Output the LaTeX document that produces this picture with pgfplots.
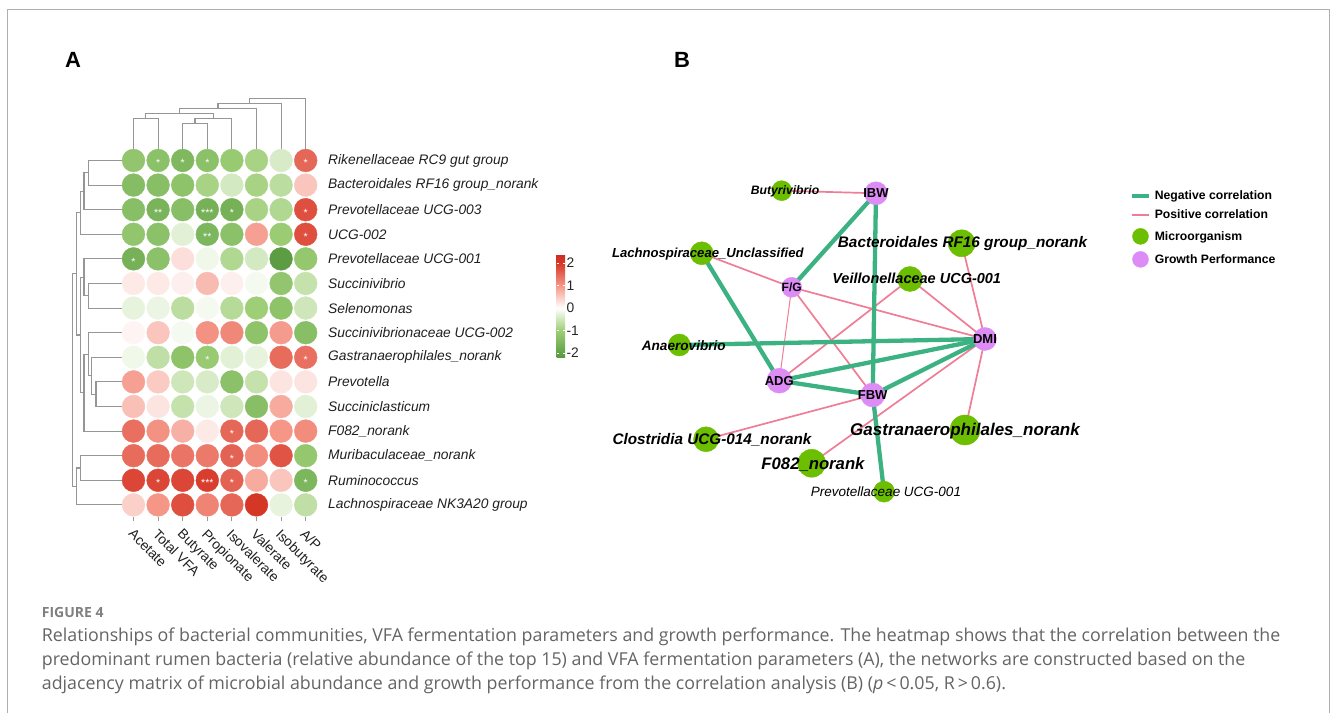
\documentclass[border=0pt]{standalone}
\usepackage{pgfplots}
\pgfplotsset{compat=1.18}
\usepackage{pgfplotstable}
\usepackage{fontspec}
\setmainfont{Liberation Sans}
\newfontfamily\capfont{Open Sans}
\definecolor{dendro}{RGB}{150,150,150}
\definecolor{negc}{RGB}{60,178,130}
\definecolor{posc}{RGB}{240,125,150}
\definecolor{microgreen}{RGB}{108,190,0}
\definecolor{growthpink}{RGB}{222,140,245}
\definecolor{capgray}{RGB}{100,100,100}
\definecolor{framegray}{RGB}{175,175,175}
\newcommand{\fs}[1]{\fontsize{#1}{#1}\selectfont}

% heatmap: column index, row index, correlation value
\pgfplotstableread{
c r v
0 0 -1.2
1 0 -1.3
2 0 -1.5
3 0 -1.3
4 0 -1.1
5 0 -0.9
6 0 -0.4
7 0 1.5
0 1 -1.4
1 1 -1.35
2 1 -1.25
3 1 -0.9
4 1 -0.45
5 1 -0.9
6 1 -0.7
7 1 0.55
0 2 -1.35
1 2 -1.6
2 2 -1.35
3 2 -1.65
4 2 -1.65
5 2 -0.9
6 2 -0.8
7 2 1.75
0 3 -1.2
1 3 -1.3
2 3 -0.3
3 3 -1.55
4 3 -1.3
5 3 0.9
6 3 -1.05
7 3 1.75
0 4 -1.65
1 4 -1.3
2 4 0.3
3 4 -0.15
4 4 -0.8
5 4 -0.45
6 4 -2.1
7 4 -1.15
0 5 0.2
1 5 0.2
2 5 0.15
3 5 0.65
4 5 0.15
5 5 -0.1
6 5 -1.2
7 5 -0.6
0 6 -0.25
1 6 -0.2
2 6 -0.7
3 6 -0.1
4 6 -0.75
5 6 -1.0
6 6 -1.25
7 6 -0.5
0 7 0.1
1 7 0.55
2 7 -0.1
3 7 1.05
4 7 1.15
5 7 -1.25
6 7 0.95
7 7 -1.35
0 8 -0.15
1 8 -0.65
2 8 -1.25
3 8 -1.1
4 8 -0.3
5 8 -0.25
6 8 1.45
7 8 1.4
0 9 0.9
1 9 0.5
2 9 -0.5
3 9 -0.4
4 9 -1.3
5 9 -0.6
6 9 0.25
7 9 0.25
0 10 0.6
1 10 0.25
2 10 -0.6
3 10 -0.2
4 10 -0.5
5 10 -1.35
6 10 0.8
7 10 -0.3
0 11 1.4
1 11 1.05
2 11 0.75
3 11 0.2
4 11 1.5
5 11 1.5
6 11 1.0
7 11 1.1
0 12 1.45
1 12 1.45
2 12 1.35
3 12 1.3
4 12 1.55
5 12 1.1
6 12 1.7
7 12 -1.15
0 13 1.85
1 13 1.85
2 13 1.85
3 13 1.95
4 13 1.55
5 13 0.8
6 13 0.55
7 13 -1.55
0 14 0.45
1 14 1.0
2 14 1.75
3 14 1.2
4 14 1.5
5 14 2.05
6 14 -0.25
7 14 -0.65
}\heat

\pgfplotstableread{
c r s
1 0 *
2 0 *
3 0 *
7 0 *
1 2 **
3 2 ***
4 2 *
7 2 *
3 3 **
7 3 *
0 4 *
3 8 *
7 8 *
4 11 *
4 12 *
1 13 *
3 13 ***
4 13 *
7 13 *
}\stars

\begin{document}
\begin{tikzpicture}
\begin{axis}[
  set layers,
  scale only axis, width=1331pt, height=713pt,
  xmin=0, xmax=1331, ymin=0, ymax=713, y dir=reverse,
  hide axis, clip=false,
  colormap={rg}{rgb255(0pt)=(88,152,62); rgb255(22pt)=(96,162,72); rgb255(122pt)=(158,206,118); rgb255(222pt)=(255,255,255); rgb255(322pt)=(245,150,135); rgb255(422pt)=(214,56,40); rgb255(462pt)=(205,45,30)},
  point meta min=-2.22, point meta max=2.4,
  colorbar,
  colorbar style={
    at={(parent axis.north west)}, anchor=north west,
    xshift=548pt, yshift=-254pt,
    scale only axis, width=8.5pt, height=104pt,
    y dir=normal,
    ytick={-2,-1,0,1,2}, yticklabels={-2,-1,0,1,2},
    yticklabel style={font=\fs{13.8}, xshift=-2pt, text=black!85},
    axis line style={draw=none},
    ytick style={draw=white, line width=0.9pt},
    major tick length=2.5pt,
    tick align=inside,
    ytick pos=both, yticklabel pos=right,
  },
  legend style={at={(axis cs:1127,187.5)}, anchor=north west, draw=none, fill=none,
    font=\bfseries\fs{12.2}, row sep=7pt, nodes={inner sep=1pt},
    /tikz/every odd column/.append style={column sep=3pt}},
  legend cell align=left,
]

% full-size bounding box
\path (axis cs:0,0) rectangle (axis cs:1331,713);

% frame
\draw[framegray, line width=1.3pt] (axis cs:7.3,713) -- (axis cs:7.3,9.5) -- (axis cs:1329.5,9.5) -- (axis cs:1329.5,713);

% panel letters
\node[font=\bfseries\fs{22}] at (axis cs:73,60) {A};
\node[font=\bfseries\fs{22}] at (axis cs:682,60) {B};

% ---------- heatmap ----------
\addplot[forget plot, scatter, only marks, mark=*, mark size=11.4,
  scatter src=explicit,
  scatter/use mapped color={draw=mapped color, fill=mapped color}]
  table[x expr=133.5+24.6*\thisrow{c}, y expr=160.5+24.6*\thisrow{r}, meta=v] {\heat};

\addplot[forget plot, only marks, mark=none, nodes near coords, point meta=explicit symbolic,
  nodes near coords style={anchor=center, text=white, font=\fs{10.5}, inner sep=0pt, yshift=-2.8pt}]
  table[x expr=133.5+24.6*\thisrow{c}, y expr=160.5+24.6*\thisrow{r}, meta=s] {\stars};

% row dendrogram
\addplot[forget plot, dendro, line width=1.1pt, mark=none] coordinates {(122,160.5) (88.3,160.5) (88.3,185.1) (122,185.1)};
\addplot[forget plot, dendro, line width=1.1pt, mark=none] coordinates {(88.3,172.8) (84,172.8) (84,209.7) (122,209.7)};
\addplot[forget plot, dendro, line width=1.1pt, mark=none] coordinates {(84,191.25) (80.7,191.25) (80.7,234.3) (122,234.3)};
\addplot[forget plot, dendro, line width=1.1pt, mark=none] coordinates {(122,283.5) (88.3,283.5) (88.3,308.1) (122,308.1)};
\addplot[forget plot, dendro, line width=1.1pt, mark=none] coordinates {(122,258.9) (84,258.9) (84,295.8) (88.3,295.8)};
\addplot[forget plot, dendro, line width=1.1pt, mark=none] coordinates {(122,381.9) (96,381.9) (96,406.5) (122,406.5)};
\addplot[forget plot, dendro, line width=1.1pt, mark=none] coordinates {(122,357.3) (91.7,357.3) (91.7,394.2) (96,394.2)};
\addplot[forget plot, dendro, line width=1.1pt, mark=none] coordinates {(122,332.7) (88.3,332.7) (88.3,375.75) (91.7,375.75)};
\addplot[forget plot, dendro, line width=1.1pt, mark=none] coordinates {(88.3,354.2) (84,354.2) (84,431.1) (122,431.1)};
\addplot[forget plot, dendro, line width=1.1pt, mark=none] coordinates {(84,277.35) (80.7,277.35) (80.7,392.65) (84,392.65)};
\addplot[forget plot, dendro, line width=1.1pt, mark=none] coordinates {(80.7,212.8) (76.2,212.8) (76.2,335) (80.7,335)};
\addplot[forget plot, dendro, line width=1.1pt, mark=none] coordinates {(122,455.7) (80.7,455.7) (80.7,480.3) (122,480.3)};
\addplot[forget plot, dendro, line width=1.1pt, mark=none] coordinates {(80.7,468) (76.7,468) (76.7,504.9) (122,504.9)};
\addplot[forget plot, dendro, line width=1.1pt, mark=none] coordinates {(76.2,273.9) (72.8,273.9) (72.8,486.45) (76.7,486.45)};

% column dendrogram
\addplot[forget plot, dendro, line width=1.1pt, mark=none] coordinates {(133.5,149) (133.5,118.3) (158.1,118.3) (158.1,149)};
\addplot[forget plot, dendro, line width=1.1pt, mark=none] coordinates {(182.7,149) (182.7,123.3) (207.3,123.3) (207.3,149)};
\addplot[forget plot, dendro, line width=1.1pt, mark=none] coordinates {(195,123.3) (195,118.3) (231.9,118.3) (231.9,149)};
\addplot[forget plot, dendro, line width=1.1pt, mark=none] coordinates {(145.8,118.3) (145.8,113.3) (213.45,113.3) (213.45,118.3)};
\addplot[forget plot, dendro, line width=1.1pt, mark=none] coordinates {(179.6,113.3) (179.6,108.3) (256.5,108.3) (256.5,149)};
\addplot[forget plot, dendro, line width=1.1pt, mark=none] coordinates {(218,108.3) (218,103.3) (281.1,103.3) (281.1,149)};
\addplot[forget plot, dendro, line width=1.1pt, mark=none] coordinates {(249.6,103.3) (249.6,98.3) (305.7,98.3) (305.7,149)};

% column ticks
\foreach \cx in {133.5,158.1,182.7,207.3,231.9,256.5,281.1,305.7}{
  \edef\tmp{\noexpand\draw[dendro, line width=1pt] (axis cs:\cx,517) -- (axis cs:\cx,521.5);}\tmp
}

% row labels
\begin{scope}[every node/.style={anchor=west, font=\itshape\fs{13.8}, text=black!88, inner sep=0pt}]
\node at (axis cs:328,160.5) {Rikenellaceae RC9 gut group};
\node at (axis cs:328,185.1) {Bacteroidales RF16 group\_norank};
\node at (axis cs:328,209.7) {Prevotellaceae UCG-003};
\node at (axis cs:328,234.3) {UCG-002};
\node at (axis cs:328,258.9) {Prevotellaceae UCG-001};
\node at (axis cs:328,283.5) {Succinivibrio};
\node at (axis cs:328,308.1) {Selenomonas};
\node at (axis cs:328,332.7) {Succinivibrionaceae UCG-002};
\node at (axis cs:328,357.3) {Gastranaerophilales\_norank};
\node at (axis cs:328,381.9) {Prevotella};
\node at (axis cs:328,406.5) {Succiniclasticum};
\node at (axis cs:328,431.1) {F082\_norank};
\node at (axis cs:328,455.7) {Muribaculaceae\_norank};
\node at (axis cs:328,480.3) {Ruminococcus};
\node at (axis cs:328,504.9) {Lachnospiraceae NK3A20 group};
\end{scope}

% column labels
\begin{scope}[every node/.style={anchor=north west, rotate=-45, font=\fs{13.8}, text=black!88, inner sep=0pt}]
\node at (axis cs:134.5,528) {Acetate};
\node at (axis cs:159.1,528) {Total VFA};
\node at (axis cs:183.7,528) {Butyrate};
\node at (axis cs:208.3,528) {Propionate};
\node at (axis cs:232.9,528) {Isovalerate};
\node at (axis cs:257.5,528) {Valerate};
\node at (axis cs:282.1,528) {Isobutyrate};
\node at (axis cs:306.7,528) {A/P};
\end{scope}

% ---------- network ----------
% positive correlations
\addplot[forget plot, posc, line width=1.7pt, mark=none] coordinates {(781.7,190.7) (876,193.3)};
\addplot[forget plot, posc, line width=1.7pt, mark=none] coordinates {(701.7,253.3) (791.7,287.3)};
\addplot[forget plot, posc, line width=1.7pt, mark=none] coordinates {(791.7,287.3) (985,339)};
\addplot[forget plot, posc, line width=1.0pt, mark=none] coordinates {(791.7,287.3) (779.3,380.7)};
\addplot[forget plot, posc, line width=1.7pt, mark=none] coordinates {(791.7,287.3) (872.7,395)};
\addplot[forget plot, posc, line width=1.7pt, mark=none] coordinates {(910,279) (779.3,380.7)};
\addplot[forget plot, posc, line width=1.7pt, mark=none] coordinates {(910,279) (985,339)};
\addplot[forget plot, posc, line width=1.7pt, mark=none] coordinates {(961.7,243.3) (985,339)};
\addplot[forget plot, posc, line width=1.7pt, mark=none] coordinates {(985,339) (965,430)};
\addplot[forget plot, posc, line width=1.7pt, mark=none] coordinates {(985,339) (811.7,463.3)};
\addplot[forget plot, posc, line width=1.7pt, mark=none] coordinates {(872.7,395) (706,439.3)};
% negative correlations
\addplot[forget plot, negc, line width=4.3pt, mark=none] coordinates {(876,193.3) (791.7,287.3)};
\addplot[forget plot, negc, line width=4.3pt, mark=none] coordinates {(876,193.3) (872.7,395)};
\addplot[forget plot, negc, line width=4.3pt, mark=none] coordinates {(872.7,395) (884,491.7)};
\addplot[forget plot, negc, line width=4.3pt, mark=none] coordinates {(701.7,253.3) (779.3,380.7)};
\addplot[forget plot, negc, line width=4.3pt, mark=none] coordinates {(679.3,345) (985,339)};
\addplot[forget plot, negc, line width=4.3pt, mark=none] coordinates {(779.3,380.7) (985,339)};
\addplot[forget plot, negc, line width=4.3pt, mark=none] coordinates {(779.3,380.7) (872.7,395)};
\addplot[forget plot, negc, line width=4.3pt, mark=none] coordinates {(872.7,395) (985,339)};

% nodes: microorganisms
\addplot[forget plot, only marks, mark=*, mark size=10, draw=microgreen, fill=microgreen] coordinates {(781.7,190.7)};
\addplot[forget plot, only marks, mark=*, mark size=13.5, draw=microgreen, fill=microgreen] coordinates {(961.7,243.3)};
\addplot[forget plot, only marks, mark=*, mark size=11.5, draw=microgreen, fill=microgreen] coordinates {(701.7,253.3)};
\addplot[forget plot, only marks, mark=*, mark size=12.5, draw=microgreen, fill=microgreen] coordinates {(910,279)};
\addplot[forget plot, only marks, mark=*, mark size=11, draw=microgreen, fill=microgreen] coordinates {(679.3,345)};
\addplot[forget plot, only marks, mark=*, mark size=12.5, draw=microgreen, fill=microgreen] coordinates {(706,439.3)};
\addplot[forget plot, only marks, mark=*, mark size=15, draw=microgreen, fill=microgreen] coordinates {(965,430)};
\addplot[forget plot, only marks, mark=*, mark size=14, draw=microgreen, fill=microgreen] coordinates {(811.7,463.3)};
\addplot[forget plot, only marks, mark=*, mark size=10.5, draw=microgreen, fill=microgreen] coordinates {(884,491.7)};
% nodes: growth performance
\addplot[forget plot, only marks, mark=*, mark size=11.5, draw=growthpink, fill=growthpink] coordinates {(876,193.3)};
\addplot[forget plot, only marks, mark=*, mark size=10, draw=growthpink, fill=growthpink] coordinates {(791.7,287.3)};
\addplot[forget plot, only marks, mark=*, mark size=11.5, draw=growthpink, fill=growthpink] coordinates {(985,339)};
\addplot[forget plot, only marks, mark=*, mark size=12.5, draw=growthpink, fill=growthpink] coordinates {(779.3,380.7)};
\addplot[forget plot, only marks, mark=*, mark size=12, draw=growthpink, fill=growthpink] coordinates {(872.7,395)};

% network labels (on top of the nodes)
\begin{pgfonlayer}{axis foreground}
\begin{scope}[every node/.style={inner sep=0pt, text=black}]
\node[font=\bfseries\itshape\fs{12.2}] at (axis cs:785,191.7) {Butyrivibrio};
\node[font=\bfseries\itshape\fs{15.3}] at (axis cs:962.5,243.5) {Bacteroidales RF16 group\_norank};
\node[font=\bfseries\itshape\fs{13.1}] at (axis cs:707.8,254) {Lachnospiraceae\_Unclassified};
\node[font=\bfseries\itshape\fs{14.5}] at (axis cs:916.7,278.5) {Veillonellaceae UCG-001};
\node[font=\bfseries\itshape\fs{13.6}] at (axis cs:683.8,346) {Anaerovibrio};
\node[font=\bfseries\itshape\fs{15.3}] at (axis cs:712,440) {Clostridia UCG-014\_norank};
\node[font=\bfseries\itshape\fs{17}] at (axis cs:965,431) {Gastranaerophilales\_norank};
\node[font=\bfseries\itshape\fs{16.7}] at (axis cs:813,464) {F082\_norank};
\node[font=\itshape\fs{13.5}] at (axis cs:886,492) {Prevotellaceae UCG-001};
\node[font=\bfseries\fs{13}] at (axis cs:876,193.3) {IBW};
\node[font=\bfseries\fs{12}] at (axis cs:791.7,287.3) {F/G};
\node[font=\bfseries\fs{13}] at (axis cs:985,339) {DMI};
\node[font=\bfseries\fs{13}] at (axis cs:779.3,380.7) {ADG};
\node[font=\bfseries\fs{13}] at (axis cs:872.7,395) {FBW};
\end{scope}
\end{pgfonlayer}

% legend
\addlegendimage{negc, line width=3.5pt, mark=none}
\addlegendentry{Negative correlation}
\addlegendimage{posc, line width=2pt, mark=none}
\addlegendentry{Positive correlation}
\addlegendimage{only marks, mark=*, mark size=8, draw=microgreen, fill=microgreen}
\addlegendentry{Microorganism}
\addlegendimage{only marks, mark=*, mark size=8, draw=growthpink, fill=growthpink}
\addlegendentry{Growth Performance}

% caption
\node[anchor=base west, font=\capfont\bfseries\fs{14}, text=black!50, inner sep=0pt] at (axis cs:41.7,617.5) {FIGURE 4};
\begin{scope}[every node/.style={anchor=base west, font=\capfont\fs{17.8}, text=capgray, inner sep=0pt}]
\node at (axis cs:41.7,641.5) {Relationships of bacterial communities, VFA fermentation parameters and growth performance. The heatmap shows that the correlation between the};
\node at (axis cs:41.7,665.5) {predominant rumen bacteria (relative abundance of the top 15) and VFA fermentation parameters (A), the networks are constructed based on the};
\node at (axis cs:41.7,689.5) {adjacency matrix of microbial abundance and growth performance from the correlation analysis (B) ({\itshape p}\,<\,0.05, R\,>\,0.6).};
\end{scope}

\end{axis}
\end{tikzpicture}
\end{document}
